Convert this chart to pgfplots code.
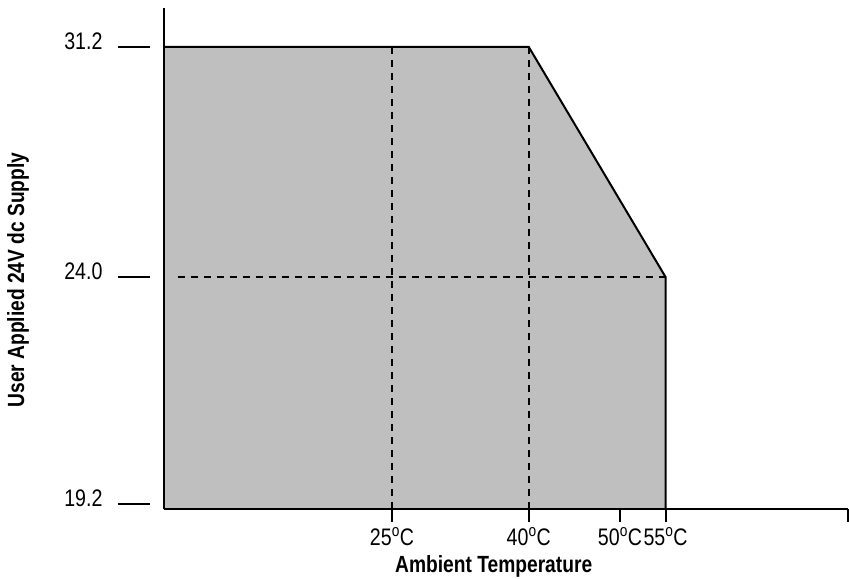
\documentclass[border=0pt]{standalone}
\usepackage{pgfplots}
\pgfplotsset{compat=1.18}
\usepackage{fontspec}
\setmainfont{Liberation Sans}[FakeStretch=0.82]
\pgfplotsset{
  mytrafo/.style={
    y coord trafo/.code={\pgfmathparse{(##1<24)*(24-(24-##1)*1.481)+(##1>=24)*##1}},
    y coord inv trafo/.code={\pgfmathparse{(##1<24)*(24-(24-##1)/1.481)+(##1>=24)*##1}},
  },
  common/.style={
    scale only axis, width=684bp, height=501bp,
    xmin=0, xmax=75, ymin=19.1, ymax=32.42, mytrafo,
    tick label style={font=\fontsize{24}{27}\selectfont, black},
  }
}
\begin{document}
\begin{tikzpicture}
\begin{axis}[common,
  axis lines=left,
  axis line style={-, line width=2bp, black},
  axis on top,
  clip=false,
  tick align=outside,
  major tick length=13bp,
  tick style={line width=2bp, black},
  xtick={25,40,50,55},
  xticklabels={25\textsuperscript{o}C,40\textsuperscript{o}C,50\textsuperscript{o}C,55\textsuperscript{o}C},
  xticklabel style={yshift=-2bp},
  extra x ticks={75}, extra x tick labels={},
  ytick=\empty,
  xlabel={Ambient Temperature},
  ylabel={User Applied 24V dc Supply},
  label style={font=\fontsize{23.5}{26}\selectfont\bfseries},
  xlabel style={at={(axis description cs:0.482,0)}, anchor=center, yshift=-57bp},
  ylabel style={at={(axis description cs:0,0.457)}, anchor=center, yshift=146bp},
]
\addplot[fill=black!25, draw=none] coordinates {(0,31.2) (40,31.2) (55,24) (55,19.1) (0,19.1)} -- cycle;
\addplot[black, line width=2.2bp, dash pattern=on 7bp off 6bp] coordinates {(25,31.2) (25,19.1)};
\addplot[black, line width=2.2bp, dash pattern=on 7bp off 6bp] coordinates {(40,31.2) (40,19.1)};
\addplot[black, line width=2.2bp, dash pattern=on 7bp off 6bp] coordinates {(1.5,24) (55,24)};
\addplot[black, line width=2bp, line join=miter] coordinates {(0,31.2) (40,31.2) (55,24) (55,19.1)};
\coordinate (O) at (rel axis cs:0,0);
\end{axis}
\begin{axis}[common,
  at={(-14bp,0)},
  axis x line=none,
  axis y line*=left,
  axis line style={draw=none},
  tick align=outside,
  major tick length=32bp,
  tick style={line width=2bp, black},
  xtick=\empty,
  ytick={19.2,24,31.2},
  yticklabels={19.2,24.0,31.2},
  yticklabel style={xshift=-12bp, yshift=6bp},
]
\end{axis}
\pgfresetboundingbox
\useasboundingbox (O) ++(-164bp,-70bp) rectangle ++(849bp,579bp);
\end{tikzpicture}
\end{document}
